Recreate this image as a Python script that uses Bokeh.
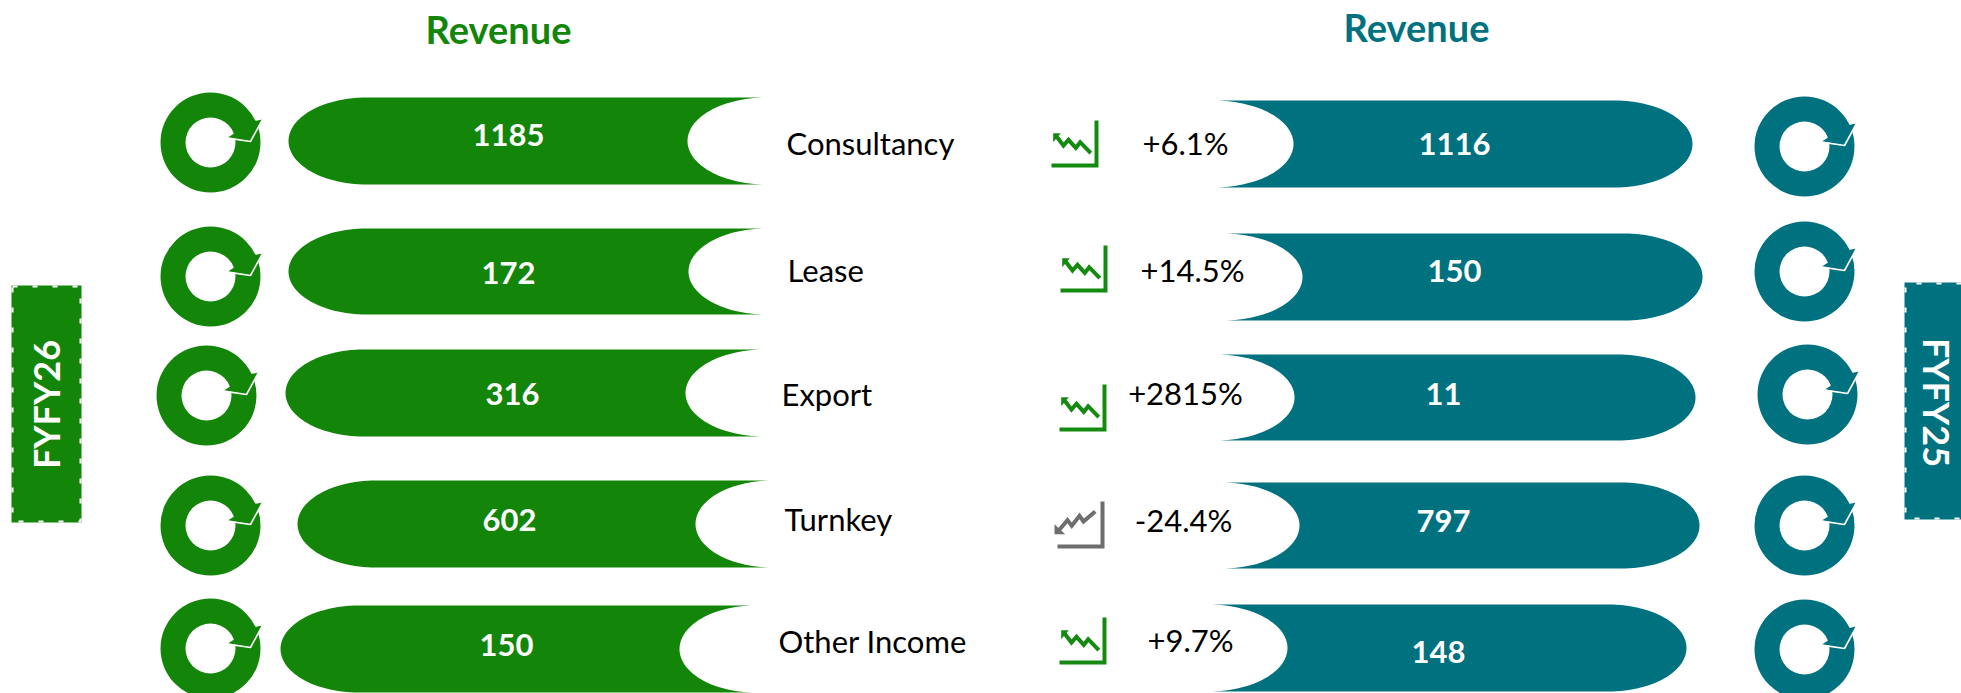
import numpy as np
from bokeh.plotting import figure
from bokeh.models import Range1d
from bokeh.core.properties import value
from bokeh.embed import file_html
from bokeh.resources import INLINE

categories = ["Consultancy", "Lease", "Export", "Turnkey", "Other Income"]
fy26_values = ["1185", "172", "316", "602", "150"]
fy25_values = ["1116", "150", "11", "797", "148"]
changes = ["+6.1%", "+14.5%", "+2815%", "-24.4%", "+9.7%"]
title_left = "Revenue"
title_right = "Revenue"
badge_left = "FYFY26"
badge_right = "FYFY25"

GREEN = "#13860A"
TEAL = "#00727F"
ICON_GREEN = "#148A10"
ICON_GREY = "#6E6E6E"
FONT = "Lato"

# layout: (left, notch, right, top, bottom) in page pixels
green_pills = [(288, 687, 766, 97, 184), (288, 688, 766, 228, 314), (285, 685, 764, 349, 436),
               (297, 695, 772, 480, 567), (280, 679, 755, 605, 692)]
teal_pills = [(1213, 1293, 1692, 100, 187), (1222, 1302, 1702, 233, 320), (1215, 1294, 1695, 354, 440),
              (1221, 1299, 1699, 482, 568), (1208, 1287, 1686, 604, 691)]
green_rings = [(210, 142), (210, 276), (206, 395), (210, 525), (210, 648)]
teal_rings = [(1804, 146), (1804, 271), (1807, 394), (1804, 525), (1804, 649)]
green_val_pos = [(508, 134), (508, 272), (512, 393), (509, 519), (506, 644)]
teal_val_pos = [(1454, 143), (1454, 270), (1443, 393), (1443, 520), (1438, 651)]
label_pos = [(786, 142), (787, 269), (781, 393), (784, 518), (778, 640)]
change_pos = [(1185, 142), (1192, 269), (1185, 392), (1183, 519), (1190, 639)]
icon_pos = [(1096, 165), (1105, 290), (1104, 429), (1102, 546), (1104, 662)]

W, H = 1961, 693
p = figure(width=W, height=H, x_range=Range1d(0, W), y_range=Range1d(H, 0),
           output_backend="svg", toolbar_location=None, min_border=0,
           outline_line_color=None, background_fill_color="white", border_fill_color="white")
p.xaxis.visible = False
p.yaxis.visible = False
p.grid.visible = False


def pill_green(l, n, r, t, b):
    ry = (b - t) / 2
    cy = (t + b) / 2
    rx = 78
    a = np.linspace(np.pi / 2, 3 * np.pi / 2, 60)
    xl = l + rx + rx * np.cos(a)
    yl = cy - ry * np.sin(a)
    a2 = np.linspace(-np.pi / 2, np.pi / 2, 60)
    rn = r - n
    xr = r - rn * np.cos(a2)
    yr = cy - ry * np.sin(a2)
    return np.r_[xl, xr], np.r_[yl, yr]


def pill_teal(l, n, r, t, b):
    ry = (b - t) / 2
    cy = (t + b) / 2
    rx = 78
    a = np.linspace(-np.pi / 2, np.pi / 2, 60)
    xr = r - rx + rx * np.cos(a)
    yr = cy + ry * np.sin(a)
    a2 = np.linspace(np.pi / 2, -np.pi / 2, 60)
    rn = n - l
    xl = l + rn * np.cos(a2)
    yl = cy + ry * np.sin(a2)
    return np.r_[xr, xl], np.r_[yr, yl]


for pill in green_pills:
    x, y = pill_green(*pill)
    p.patch(x, y, fill_color=GREEN, line_color=None)
for pill in teal_pills:
    x, y = pill_teal(*pill)
    p.patch(x, y, fill_color=TEAL, line_color=None)


def ring(cx, cy, col):
    p.annulus([cx], [cy], inner_radius=25, outer_radius=50, fill_color=col, line_color=None)
    ax = np.array([23.7, 17.3, 40, 52, 44.3]) + cx
    ay = np.array([-9, -5, -1.5, -23, -21.5]) + cy
    p.patch(ax, ay, fill_color=col, line_color=None)
    p.line(np.array([17.3, 40, 52]) + cx, np.array([-4.4, -1, -23]) + cy, line_color="white", line_width=1.6)


for c in green_rings:
    ring(c[0], c[1], GREEN)
for c in teal_rings:
    ring(c[0], c[1], TEAL)


def icon(cx, cy, down):
    col = ICON_GREY if down else ICON_GREEN
    p.line([cx, cx, cx - 45], [cy - 45, cy, cy], line_color=col, line_width=4, line_join="miter")
    if down:
        zx = [-7.3, -19, -23, -30.7, -35, -44]
        zy = [-35, -25, -30.7, -20.7, -26.3, -15.7]
        tri_x = [-48, -48, -37.3]
        tri_y = [-12.3, -22.3, -12.3]
    else:
        zx = [-5.7, -16.3, -20.7, -28, -33, -40.7]
        zy = [-12.3, -23.3, -17.7, -25.7, -20, -30]
        tri_x = [-43.3, -35.7, -43.3]
        tri_y = [-32.3, -32.3, -23.3]
    p.line(np.array(zx) + cx, np.array(zy) + cy, line_color=col, line_width=4, line_join="miter")
    p.patch(np.array(tri_x) + cx, np.array(tri_y) + cy, fill_color=col, line_color=None)


for i, c in enumerate(icon_pos):
    icon(c[0], c[1], changes[i].startswith("-"))

# badges
p.quad(left=[11], right=[81], top=[285], bottom=[522], fill_color=GREEN, line_color=None)
p.line([12, 80, 80, 12, 12], [286, 286, 521, 521, 286], line_color="white", line_width=2, line_dash="5 15")
p.quad(left=[1904], right=[1975], top=[282], bottom=[519], fill_color=TEAL, line_color=None)
p.line([1961, 1905, 1905, 1961], [283, 283, 518, 518], line_color="white", line_width=2, line_dash="5 15")


def txt(x, y, s, size, col, bold=False, align="center", angle=0.0, font=FONT):
    p.text([x], [y], text=[s], text_font=value(font), text_font_size=f"{size}px",
           text_font_style="bold" if bold else "normal", text_color=col,
           text_align=align, text_baseline="middle", angle=angle)


txt(498, 28, title_left, 38, GREEN, True)
txt(1416, 26, title_right, 38, TEAL, True)
txt(45, 404, badge_left, 36, "white", True, angle=np.pi / 2)
txt(1936, 402, badge_right, 36, "white", True, angle=-np.pi / 2)

for i in range(5):
    txt(green_val_pos[i][0], green_val_pos[i][1], fy26_values[i], 31, "white", True)
    txt(teal_val_pos[i][0], teal_val_pos[i][1], fy25_values[i], 31, "white", True)
    txt(label_pos[i][0], label_pos[i][1], categories[i], 31, "black", False, align="left")
    txt(change_pos[i][0], change_pos[i][1], changes[i], 31, "black")

open("out.html", "w").write(file_html(p, INLINE))
